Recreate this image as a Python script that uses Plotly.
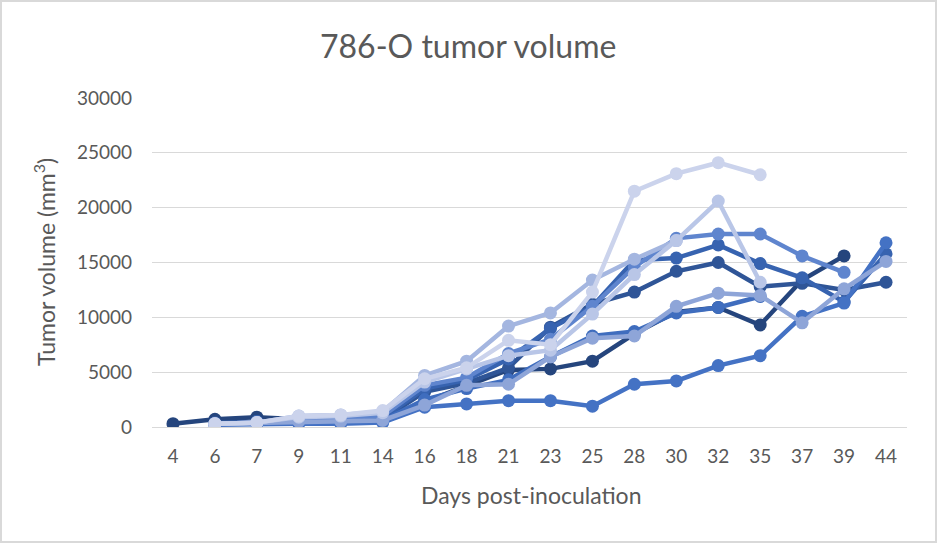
import plotly.graph_objects as go

days = ["4", "6", "7", "9", "11", "14", "16", "18", "21", "23", "25", "28", "30", "32", "35", "37", "39", "44"]

mouse_1 = [300, 700, 900, 700, 700, 800, 2300, 3800, 5200, 5300, 6000, 8500, 10500, 10900, 9300, 13400, 15600, None]
mouse_2 = [None, 400, 500, 500, 500, 700, 3200, 4000, 5400, 9100, 11200, 12300, 14200, 15000, 12800, 13100, 12500, 13200]
mouse_3 = [None, 300, 500, 600, 600, 800, 3500, 4300, 6200, 9000, 11000, 15200, 15400, 16600, 14900, 13600, 11400, 15800]
mouse_4 = [None, 300, 400, 400, 400, 600, 2500, 3500, 4300, 6400, 8300, 8700, 10400, 10900, 11900, None, None, None]
mouse_5 = [None, 200, 300, 300, 300, 400, 1800, 2100, 2400, 2400, 1900, 3900, 4200, 5600, 6500, 10100, 11300, 16800]
mouse_6 = [None, 300, 400, 700, 800, 1000, 3800, 4500, 6700, 8000, 11000, 14600, 17200, 17600, 17600, 15600, 14100, None]
mouse_7 = [None, 300, 400, 500, 500, 600, 2000, 3800, 3900, 6400, 8100, 8300, 11000, 12200, 12000, 9500, 12600, 15100]
mouse_8 = [None, 300, 400, 1000, 1100, 1400, 4700, 6000, 9200, 10400, 13400, 15300, 17000, None, None, None, None, None]
mouse_9 = [None, 300, 400, 900, 1000, 1300, 4100, 5300, 6500, 7000, 10300, 13900, 17000, 20600, 13200, None, None, None]
mouse_10 = [None, 300, 400, 1000, 1100, 1500, 4400, 5400, 7900, 7500, 12300, 21500, 23100, 24100, 23000, None, None, None]

series = [mouse_1, mouse_2, mouse_3, mouse_4, mouse_5, mouse_6, mouse_7, mouse_8, mouse_9, mouse_10]
names = ["Mouse 1", "Mouse 2", "Mouse 3", "Mouse 4", "Mouse 5", "Mouse 6", "Mouse 7", "Mouse 8", "Mouse 9", "Mouse 10"]
colors = ["#25457D", "#2F5597", "#3763B0", "#3F6DBE", "#4472C4", "#5F85CE", "#8EA5D8", "#A4B6E0", "#B9C6E7", "#CBD3EC"]

y_ticks = [0, 5000, 10000, 15000, 20000, 25000, 30000]

fig = go.Figure()
for vals, name, col in zip(series, names, colors):
    fig.add_trace(go.Scatter(
        x=days, y=vals, name=name, mode="lines+markers",
        line=dict(color=col, width=4.5),
        marker=dict(color=col, size=13),
        connectgaps=False,
    ))

FONT = "Lato"
GREY = "#595959"

fig.update_layout(
    width=937, height=543,
    margin=dict(l=152, r=30, t=98, b=116, autoexpand=False),
    paper_bgcolor="white", plot_bgcolor="white",
    showlegend=False,
    font=dict(family=FONT, color=GREY, size=19),
    xaxis=dict(
        type="category", categoryorder="array", categoryarray=days,
        range=[-0.5, len(days) - 0.5],
        showgrid=False, zeroline=False, showline=False, automargin=False,
        ticks="", ticklabelstandoff=16,
        tickfont=dict(family=FONT, size=19, color=GREY),
    ),
    yaxis=dict(
        range=[0, 30000], tickvals=y_ticks, ticktext=[str(v) for v in y_ticks],
        showgrid=True, gridcolor="#D9D9D9", gridwidth=1.3, automargin=False,
        zeroline=True, zerolinecolor="#D9D9D9", zerolinewidth=1.3,
        showline=False, ticks="", ticklabelstandoff=19,
        tickfont=dict(family=FONT, size=19, color=GREY),
    ),
    annotations=[
        dict(text="786-O tumor volume", xref="paper", yref="paper",
             x=(468 - 152) / 755, y=(427 - 45) / 329, xanchor="center", yanchor="middle",
             showarrow=False, font=dict(family=FONT, size=32, color=GREY)),
        dict(text="Days post-inoculation", xref="paper", yref="paper",
             x=(531 - 152) / 755, y=(427 - 495) / 329, xanchor="center", yanchor="middle",
             showarrow=False, font=dict(family=FONT, size=23, color=GREY)),
        dict(text="Tumor volume (mm<sup>3</sup>)", xref="paper", yref="paper",
             x=(44 - 152) / 755, y=(427 - 262) / 329, xanchor="center", yanchor="middle",
             textangle=-90, showarrow=False, font=dict(family=FONT, size=23, color=GREY)),
    ],
    shapes=[
        dict(type="rect", xref="paper", yref="paper",
             x0=(1 - 152) / 755, x1=(936 - 152) / 755,
             y0=(427 - 542) / 329, y1=(427 - 1) / 329,
             line=dict(color="#D9D9D9", width=2), fillcolor="rgba(0,0,0,0)", layer="below"),
    ],
)

fig.write_html("out.html", config={"displayModeBar": False},
               post_script="document.body.style.margin='0px';document.body.style.overflow='hidden';")
